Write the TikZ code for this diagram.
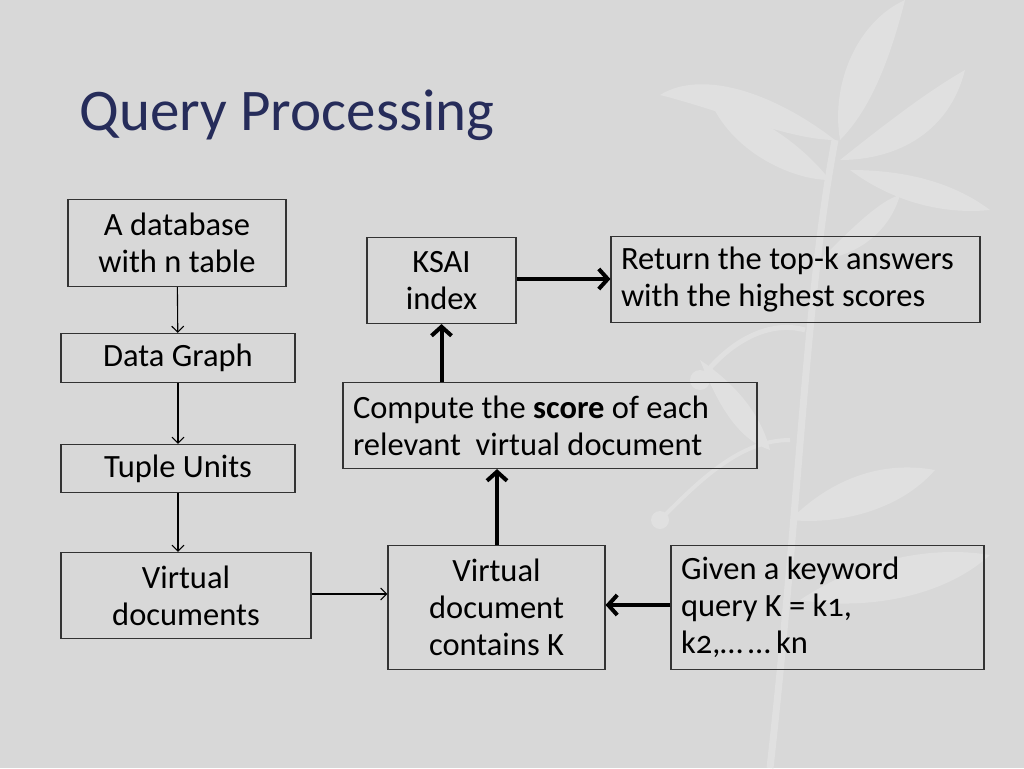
\documentclass[tikz,border=0pt]{standalone}
\usepackage{fontspec}
\setmainfont{Carlito}
\usetikzlibrary{arrows.meta}
\definecolor{bg}{HTML}{D8D8D8}
\definecolor{leaf}{HTML}{E0E0E0}
\definecolor{titleblue}{HTML}{262C5A}
\definecolor{edge}{HTML}{333333}
\tikzset{
  box/.style={draw=edge, line width=1.1pt, inner sep=10pt, font=\fontsize{32.5}{37}\selectfont, text=black},
  thin/.style={draw=black, line width=1.1pt, -{Straight Barb[length=6pt,width=12pt]}},
  thick/.style={draw=black, line width=4pt, -{Straight Barb[length=9pt,width=20pt]}},
  leafshape/.style={fill=leaf, draw=none}
}
\begin{document}
\begin{tikzpicture}[x=1pt,y=-1pt]
\useasboundingbox (0,0) rectangle (1024,768);
\fill[bg] (0,0) rectangle (1024,768);
% faint plant decoration
\begin{scope}
\draw[leaf, line width=7pt] (770,768) .. controls (800,500) and (805,300) .. (835,140);
\draw[leaf, line width=5pt] (805,330) .. controls (770,320) and (730,340) .. (700,380);
\draw[leaf, line width=4pt] (790,440) .. controls (740,440) and (700,480) .. (660,520);
\fill[leafshape] (835,140) .. controls (770,90) and (700,70) .. (660,95) .. controls (720,110) and (790,140) .. (835,140);
\fill[leafshape] (830,180) .. controls (790,130) and (740,110) .. (710,100) .. controls (730,150) and (790,180) .. (830,180);
\fill[leafshape] (840,140) .. controls (830,80) and (860,20) .. (905,0) .. controls (890,60) and (870,110) .. (840,140);
\fill[leafshape] (840,160) .. controls (890,120) and (930,90) .. (965,70) .. controls (950,130) and (900,160) .. (840,160);
\fill[leafshape] (850,170) .. controls (900,170) and (950,180) .. (990,210) .. controls (940,215) and (890,200) .. (850,170);
\fill[leafshape] (820,260) .. controls (850,230) and (880,200) .. (900,195) .. controls (890,230) and (860,255) .. (820,260);
\fill[leafshape] (790,520) .. controls (830,480) and (880,460) .. (935,470) .. controls (900,510) and (840,525) .. (790,520);
\fill[leafshape] (800,600) .. controls (860,560) and (930,545) .. (990,555) .. controls (940,600) and (860,610) .. (800,600);
\fill[leafshape] (770,450) .. controls (760,410) and (730,380) .. (700,360) .. controls (720,410) and (740,440) .. (770,450);
\fill[leafshape] (700,380) circle (10);
\fill[leafshape] (660,520) circle (9);
\end{scope}

\node[anchor=base west, text=titleblue, font=\fontsize{59}{60}\selectfont] (title) at (76,130) {Query Processing};

\node[box, minimum width=218pt, minimum height=87pt, align=center] (db) at (177,243) {A database\\with n table};
\node[box, minimum width=234pt, minimum height=49pt, align=center] (dg) at (178,358) {Data Graph};
\node[box, minimum width=234pt, minimum height=48pt, align=center] (tu) at (178,468.5) {Tuple Units};
\node[box, minimum width=250pt, minimum height=86pt, align=center] (vd) at (186,595.5) {Virtual\\documents};
\node[box, minimum width=217pt, minimum height=124pt, align=center] (vdk) at (496.5,607.5) {Virtual\\document\\contains K};
\node[box, minimum width=313pt, minimum height=124pt, text width=293pt, align=flush left] (given) at (827.5,607.5) {Given a keyword\\query K = {\addfontfeatures{Numbers=OldStyle}k1},\\{\addfontfeatures{Numbers=OldStyle}k2},…\,…\,kn};
\node[box, minimum width=414pt, minimum height=86pt, text width=394pt, align=flush left] (comp) at (550,425.5) {Compute the \textbf{score} of each\\relevant\ \ virtual document};
\node[box, minimum width=149pt, minimum height=86pt, align=center] (ksai) at (441.5,280.5) {KSAI\\index};
\node[box, minimum width=369pt, minimum height=86pt, text width=349pt, align=flush left] (ret) at (795.5,279.5) {Return the top-k answers\\with the highest scores};

\draw[thin] (db) -- (dg);
\draw[thin] (dg) -- (tu);
\draw[thin] (tu) -- (tu |- vd.north);
\draw[thin] (vd.east |- 0,594) -- (vdk.west |- 0,594);
\draw[thick] (vdk.north -| 497,0) -- (comp.south -| 497,0);
\draw[thick] (comp.north -| ksai) -- (ksai.south);
\draw[thick] (ksai.east |- 0,279) -- (ret.west |- 0,279);
\draw[thick] (given.west |- 0,605) -- (vdk.east |- 0,605);
\end{tikzpicture}
\end{document}
